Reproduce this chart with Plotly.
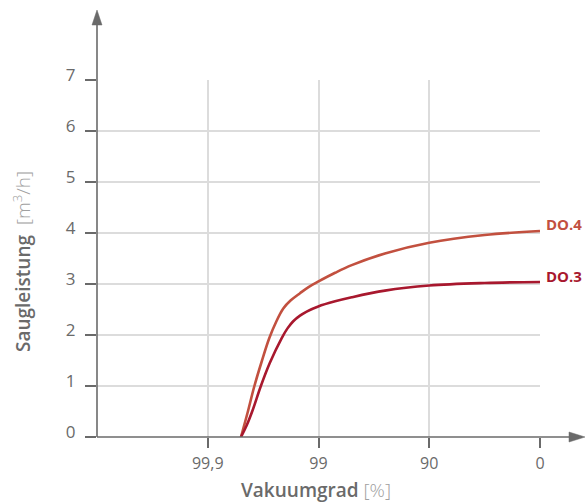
import plotly.graph_objects as go

# Axis categories (positions 1..4 on the vacuum axis)
x_tick_pos = [1, 2, 3, 4]
x_tick_labels = ["99,9", "99", "90", "0"]
y_ticks = [0, 1, 2, 3, 4, 5, 6, 7]

# Curves (x in axis position units, y in m3/h)
do4_x = [1.30, 1.36, 1.42, 1.49, 1.556, 1.62, 1.682, 1.75, 1.833, 1.91, 2.0, 2.15, 2.3, 2.6, 3.0, 3.5, 4.0]
do4_y = [0.0, 0.48, 0.99, 1.50, 1.94, 2.27, 2.52, 2.68, 2.82, 2.94, 3.05, 3.22, 3.37, 3.60, 3.81, 3.96, 4.04]
do3_x = [1.30, 1.35, 1.406, 1.478, 1.56, 1.668, 1.72, 1.772, 1.833, 1.893, 1.998, 2.15, 2.3, 2.6, 3.0, 3.5, 4.0]
do3_y = [0.0, 0.22, 0.53, 0.99, 1.45, 1.94, 2.13, 2.27, 2.38, 2.46, 2.56, 2.66, 2.74, 2.87, 2.97, 3.02, 3.04]

series_names = ["DO.4", "DO.3"]
c4 = "#c2503f"
c3 = "#a8182e"
gray = "#6a6a6a"
grid = "#dcdcdc"
font = "Open Sans"

fig = go.Figure()
fig.add_trace(go.Scatter(x=do4_x, y=do4_y, mode="lines", line=dict(color=c4, width=2.6, shape="spline", smoothing=1.0), name=series_names[0]))
fig.add_trace(go.Scatter(x=do3_x, y=do3_y, mode="lines", line=dict(color=c3, width=2.6, shape="spline", smoothing=1.0), name=series_names[1]))

fig.update_layout(
    width=585, height=504,
    margin=dict(l=97, r=45, t=80, b=67),
    paper_bgcolor="white", plot_bgcolor="white",
    showlegend=False,
    font=dict(family=font, color=gray),
)
fig.update_xaxes(
    range=[0, 4], tickmode="array", tickvals=x_tick_pos, ticktext=x_tick_labels,
    showgrid=True, gridcolor=grid, gridwidth=1.5, zeroline=False, showline=False,
    ticks="outside", ticklen=10, tickwidth=1.5, tickcolor=gray,
    tickfont=dict(size=16, color=gray, family=font), ticklabelstandoff=2,
)
fig.update_yaxes(
    range=[0, 7], tickmode="array", tickvals=y_ticks,
    showgrid=True, gridcolor=grid, gridwidth=1.5, zeroline=False, showline=False,
    ticks="outside", ticklen=11, tickwidth=1.5, tickcolor=gray,
    tickfont=dict(size=17, color=gray, family=font), ticklabelshift=-5, ticklabelstandoff=6,
)

# Axis lines with arrow heads
W, H = 443.0, 357.0
def px(x): return (x - 97) / W
def py(y): return (437 - y) / H
fig.add_shape(type="line", xref="paper", yref="paper", x0=0, y0=0, x1=0, y1=py(22), line=dict(color=gray, width=1.6))
fig.add_shape(type="line", xref="paper", yref="paper", x0=0, y0=0, x1=px(572), y1=0, line=dict(color=gray, width=1.6))
fig.add_shape(type="path", xref="paper", yref="paper",
              path=f"M {px(97)},{py(10)} L {px(92)},{py(25)} L {px(102)},{py(25)} Z",
              fillcolor=gray, line=dict(color=gray, width=0.5))
fig.add_shape(type="path", xref="paper", yref="paper",
              path=f"M {px(585)},{py(437)} L {px(569)},{py(432)} L {px(569)},{py(442)} Z",
              fillcolor=gray, line=dict(color=gray, width=0.5))

# Series labels
fig.add_annotation(x=4, y=do4_y[-1], text="<b>DO.4</b>", showarrow=False, xanchor="left", yanchor="middle",
                   xshift=4, yshift=7, font=dict(size=15, color=c4, family=font))
fig.add_annotation(x=4, y=do3_y[-1], text="<b>DO.3</b>", showarrow=False, xanchor="left", yanchor="middle",
                   xshift=4, yshift=6, font=dict(size=15, color=c3, family=font))

# Axis titles
fig.add_annotation(xref="paper", yref="paper", x=px(316), y=py(490), showarrow=False,
                   text="Vakuumgrad <span style='font-weight:300;color:#a0a0a0'>[%]</span>",
                   font=dict(size=19, color=gray, family=font, weight=600), xanchor="center", yanchor="middle")
fig.add_annotation(xref="paper", yref="paper", x=px(22), y=py(262), showarrow=False, textangle=-90,
                   text="Saugleistung  <span style='font-weight:300;color:#a0a0a0'>[m<sup>3</sup>/h]</span>",
                   font=dict(size=19, color=gray, family=font, weight=600), xanchor="center", yanchor="middle")

fig.write_html("out.html", config={"displayModeBar": False},
               post_script="document.body.style.margin='0';")
